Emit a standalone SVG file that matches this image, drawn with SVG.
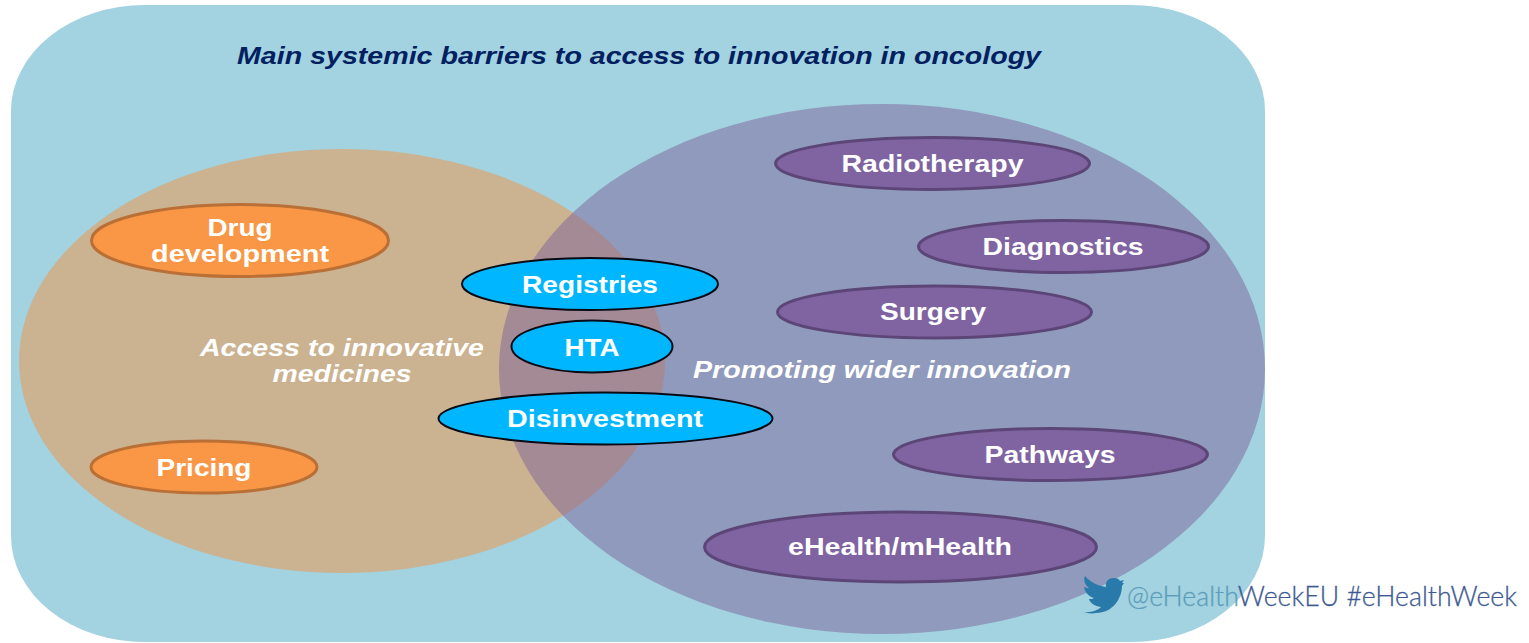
<svg xmlns="http://www.w3.org/2000/svg" width="1529" height="643" viewBox="0 0 1529 643">
<style>
text{font-family:"Liberation Sans",Arial,sans-serif;font-weight:bold;text-anchor:middle;fill:#fff;font-size:23px}
.i{font-style:italic}
.o{fill:#F99746;stroke:#B96F35;stroke-width:3}
.p{fill:#8064A2;stroke:#5C4677;stroke-width:3}
.b{fill:#00B6FF;stroke:#0A0A14;stroke-width:2}
.t{font-family:"Lato","Open Sans",sans-serif;font-weight:300;text-anchor:start;font-size:27px;stroke:#3E5A92;stroke-width:.3}
</style>
<g id="background">
<rect x="11" y="5" width="1254" height="637" rx="134" ry="106" fill="#A3D2E0"/>
<text class="i" x="639" y="63.500" style="fill:#002060" textLength="804" lengthAdjust="spacingAndGlyphs">Main systemic barriers to access to innovation in oncology</text>
</g>
<g id="access-circle">
<ellipse cx="342" cy="361" rx="323" ry="212" fill="#CBB290"/>
</g>
<g id="innovation-circle">
<ellipse cx="882" cy="369" rx="383" ry="265" fill="#7B629A" fill-opacity=".5"/>
</g>
<g id="access-label"><text class="i" x="342" y="355.500" textLength="284" lengthAdjust="spacingAndGlyphs">Access to innovative</text><text class="i" x="342" y="381.500" textLength="139" lengthAdjust="spacingAndGlyphs">medicines</text></g>
<g id="innovation-label"><text class="i" x="882" y="377.500" textLength="378" lengthAdjust="spacingAndGlyphs">Promoting wider innovation</text></g>
<g id="drug-development"><ellipse class="o" cx="240" cy="240.500" rx="148.500" ry="36"/><text x="240" y="235.500" textLength="65" lengthAdjust="spacingAndGlyphs">Drug</text><text x="240" y="261.500" textLength="178" lengthAdjust="spacingAndGlyphs">development</text></g>
<g id="pricing"><ellipse class="o" cx="204" cy="467" rx="113" ry="26"/><text x="204" y="475.500" textLength="95" lengthAdjust="spacingAndGlyphs">Pricing</text></g>
<g id="registries"><ellipse class="b" cx="590" cy="284" rx="128" ry="26"/><text x="590" y="292.500" textLength="136" lengthAdjust="spacingAndGlyphs">Registries</text></g>
<g id="hta"><ellipse class="b" cx="592" cy="346.500" rx="80.500" ry="26"/><text x="592" y="355.500" textLength="55" lengthAdjust="spacingAndGlyphs">HTA</text></g>
<g id="disinvestment"><ellipse class="b" cx="605.500" cy="418.500" rx="167" ry="26"/><text x="605" y="427" textLength="196" lengthAdjust="spacingAndGlyphs">Disinvestment</text></g>
<g id="radiotherapy"><ellipse class="p" cx="932.500" cy="163.500" rx="157" ry="26"/><text x="932.500" y="171.500" textLength="182" lengthAdjust="spacingAndGlyphs">Radiotherapy</text></g>
<g id="diagnostics"><ellipse class="p" cx="1063.500" cy="246.500" rx="145" ry="26"/><text x="1063" y="254.500" textLength="161" lengthAdjust="spacingAndGlyphs">Diagnostics</text></g>
<g id="surgery"><ellipse class="p" cx="934.500" cy="312" rx="157" ry="26"/><text x="933" y="320" textLength="106" lengthAdjust="spacingAndGlyphs">Surgery</text></g>
<g id="pathways"><ellipse class="p" cx="1050.500" cy="454.500" rx="157" ry="26"/><text x="1050" y="462.500" textLength="131" lengthAdjust="spacingAndGlyphs">Pathways</text></g>
<g id="ehealth"><ellipse class="p" cx="900.500" cy="547" rx="196" ry="35"/><text x="900" y="555" textLength="224" lengthAdjust="spacingAndGlyphs">eHealth/mHealth</text></g>
<g id="twitter">
<path d="M1083 612C1092 613 1098 610 1101 607C1093 606 1090 602 1089 599C1091 599 1093 599 1094 598C1088 596 1085 592 1084 587C1086 588 1088 588 1089 588C1085 585 1083 580 1085 576C1091 583 1099 586 1106 587C1105 581 1109 578 1114 578C1117 578 1119 579 1120 581L1124 580L1122 583L1124 583L1122 586C1122 598 1113 613 1096 613C1091 614 1087 613 1083 612Z" fill="#2A79AB"/>
<text class="t" x="1127" y="606" textLength="390" lengthAdjust="spacingAndGlyphs" style="fill:#3E5A92"><tspan style="fill:#5E9DBB;stroke:#5E9DBB">@eHealth</tspan>WeekEU #eHealthWeek</text>
</g>
</svg>
